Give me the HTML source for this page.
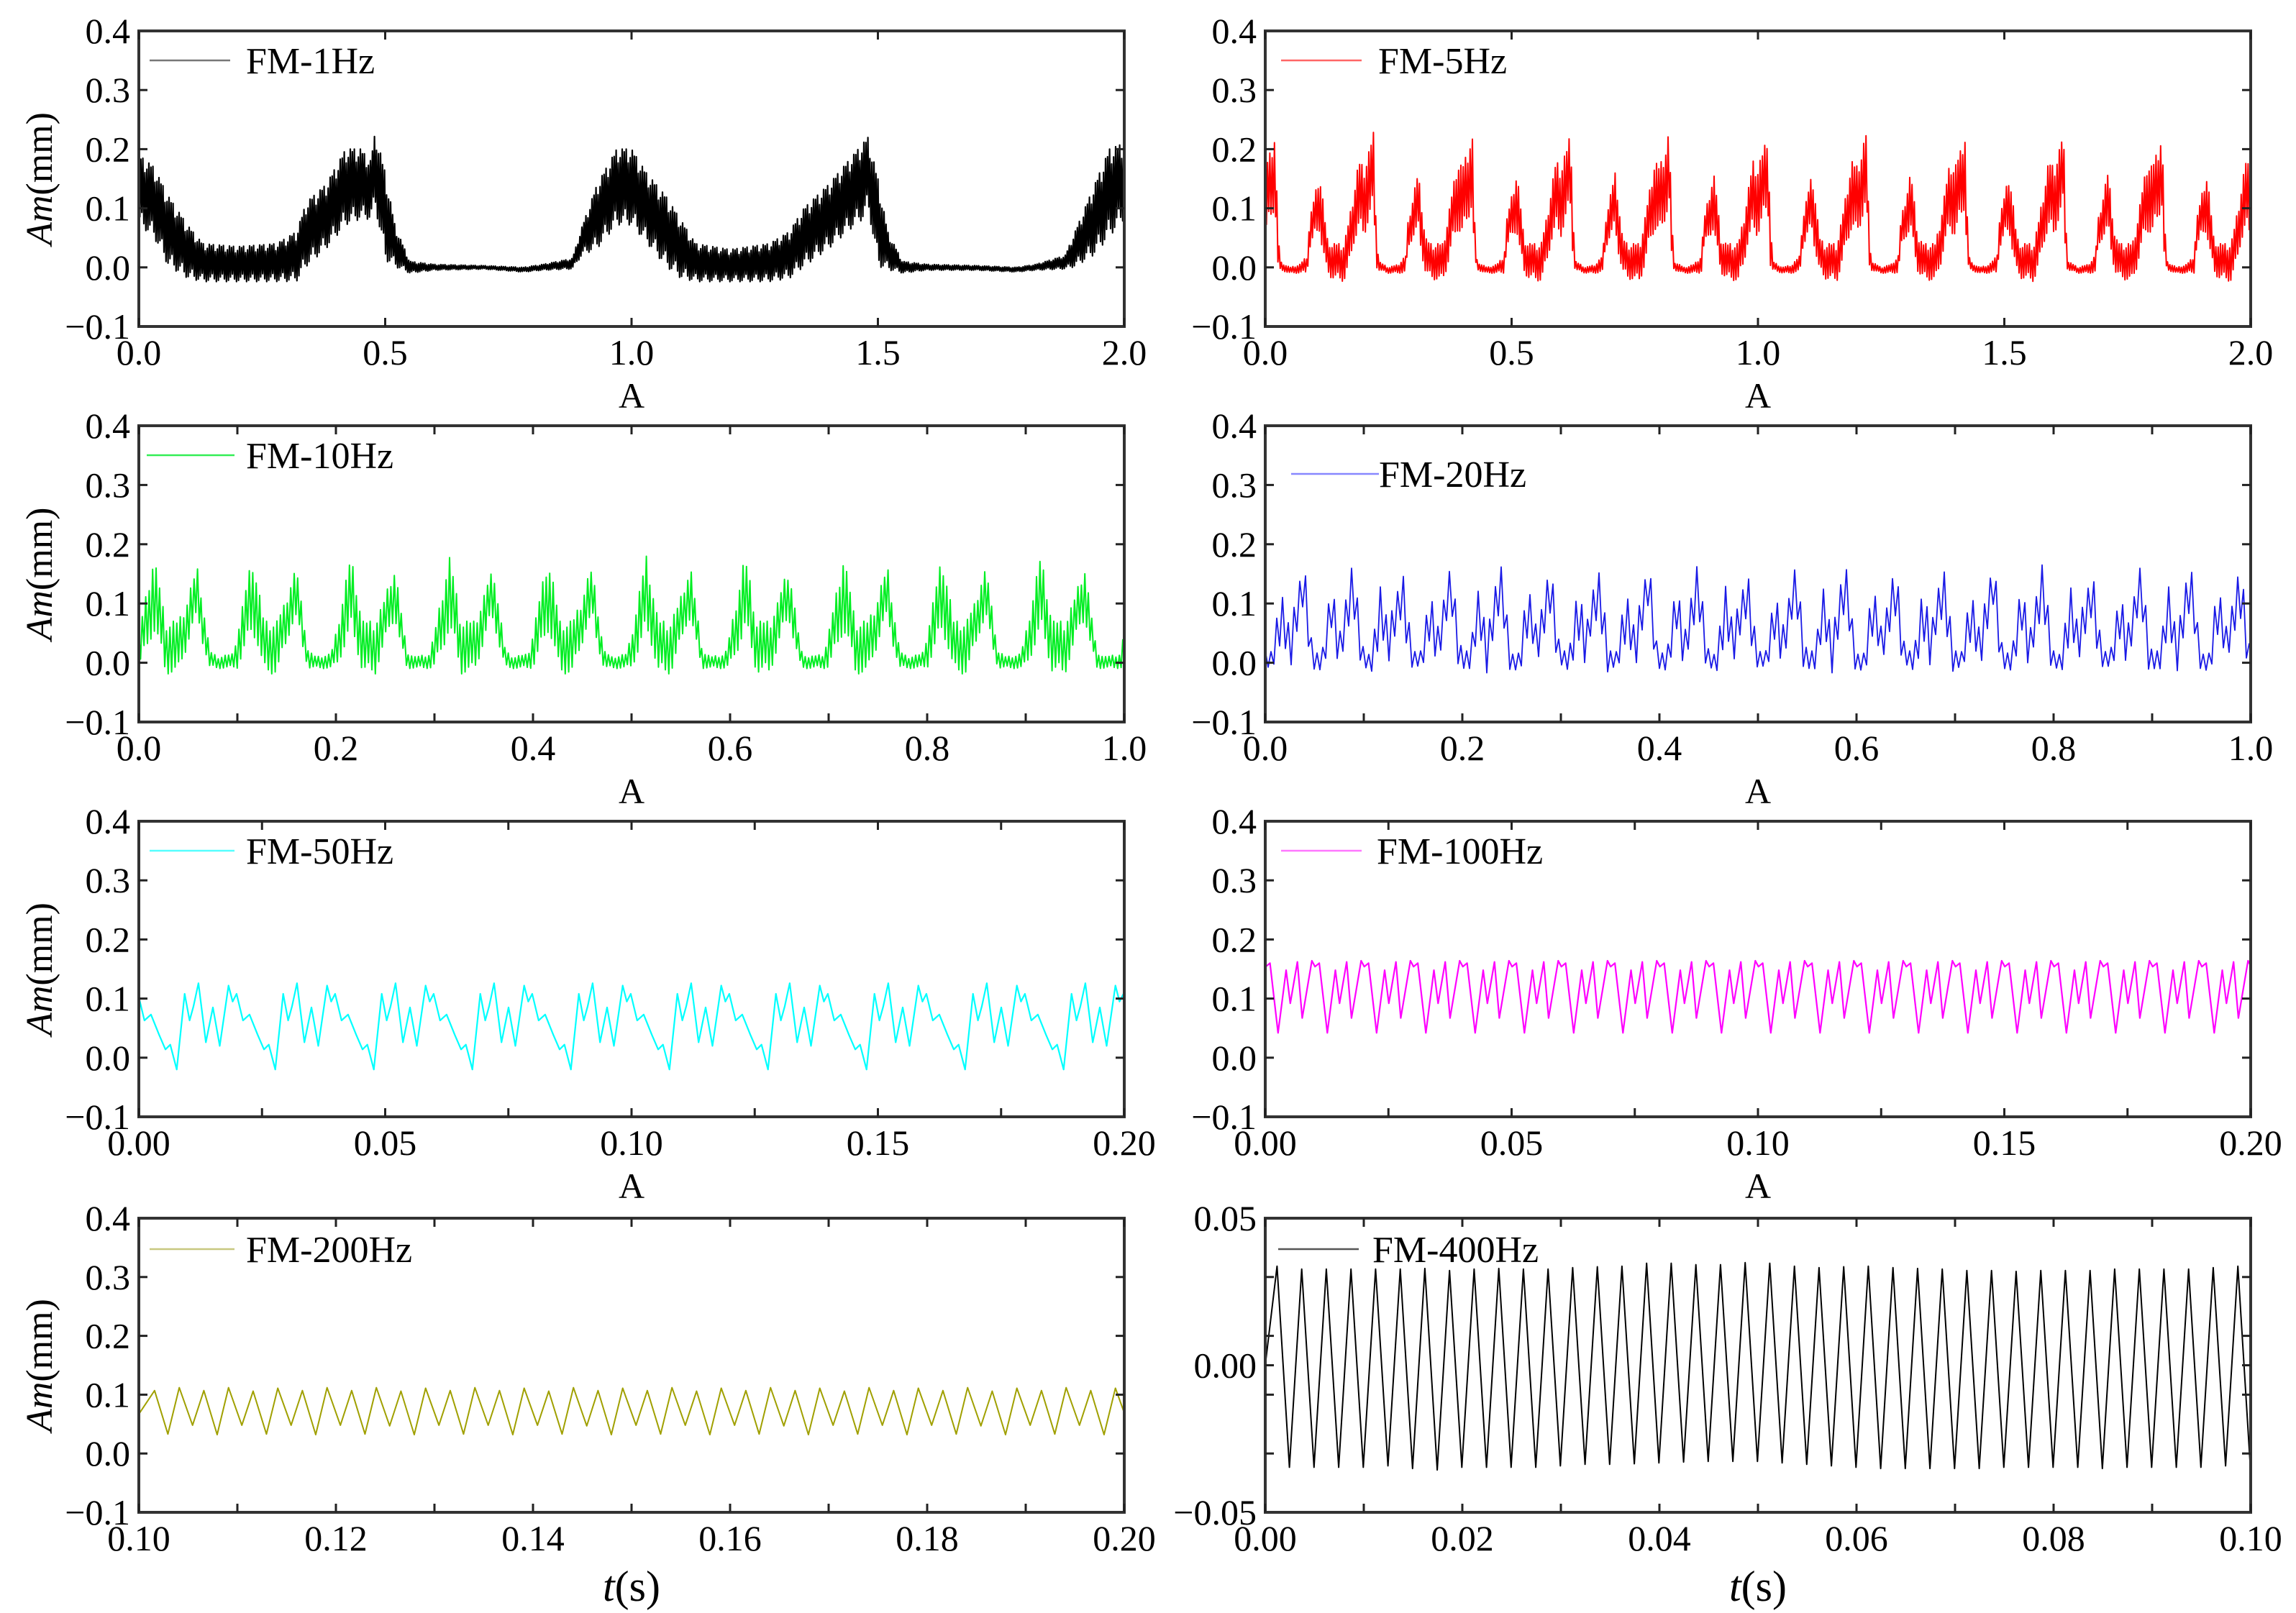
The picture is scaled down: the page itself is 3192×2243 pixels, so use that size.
<!DOCTYPE html>
<html><head><meta charset="utf-8">
<style>
html,body{margin:0;padding:0;background:#fff;}
svg{display:block;font-family:"Liberation Serif",serif;}
</style></head>
<body>
<svg id="fig" width="3192" height="2243" viewBox="0 0 3192 2243" xmlns="http://www.w3.org/2000/svg"></svg>
<script>
// ===== Data arrays =====
const t1 = [0,0.03,0.06,0.1,0.13,0.2,0.28,0.32,0.34,0.38,0.42,0.45,0.47,0.48,0.5,0.52,0.55,0.6,0.7,0.78,0.82,0.88,0.9,0.93,0.97,1.0,1.03,1.07,1.1,1.13,1.2,1.28,1.32,1.35,1.4,1.44,1.47,1.48,1.5,1.52,1.55,1.6,1.7,1.78,1.82,1.88,1.9,1.94,1.97,2.0];
const hi1 = [0.19,0.17,0.12,0.07,0.04,0.035,0.04,0.06,0.11,0.14,0.2,0.2,0.18,0.23,0.16,0.07,0.01,0.005,0.003,0.0,0.005,0.015,0.07,0.14,0.2,0.2,0.16,0.12,0.08,0.04,0.03,0.04,0.06,0.1,0.14,0.18,0.21,0.22,0.15,0.06,0.01,0.005,0.003,0.0,0.005,0.02,0.06,0.14,0.2,0.21];
const lo1 = [0.07,0.05,0.0,-0.02,-0.025,-0.025,-0.025,-0.025,0.0,0.03,0.07,0.08,0.08,0.1,0.01,0.0,-0.01,-0.005,-0.003,-0.008,-0.005,-0.003,0.02,0.03,0.07,0.07,0.04,0.0,-0.02,-0.025,-0.025,-0.025,-0.02,0.0,0.03,0.06,0.08,0.1,0.0,-0.005,-0.01,-0.005,-0.005,-0.008,-0.005,-0.003,0.0,0.02,0.05,0.08];
const period5 = 0.2;
const s5 = [0,0.012,0.02,0.025,0.03,0.05,0.07,0.085,0.09,0.1,0.11,0.115,0.125,0.135,0.16,0.17,0.18,0.19,0.2];
const hi5 = [0.17,0.2,0.23,0.08,0.01,0.0,0.005,0.02,0.08,0.12,0.16,0.13,0.05,0.04,0.04,0.08,0.13,0.18,0.17];
const lo5 = [0.05,0.08,0.1,0.0,-0.005,-0.01,-0.01,-0.01,0.03,0.05,0.06,0.03,-0.01,-0.02,-0.025,0.0,0.04,0.06,0.05];
const period10 = 0.1;
const s10 = [0,0.008,0.015,0.02,0.027,0.04,0.048,0.055,0.06,0.065,0.072,0.08,0.095,0.1];
const hi10 = [0.05,0.12,0.18,0.14,0.07,0.07,0.1,0.14,0.16,0.1,0.02,0.01,0.015,0.05];
const lo10 = [-0.01,0.02,0.05,0.03,-0.02,-0.02,0.02,0.06,0.07,0.03,-0.01,-0.01,-0.01,-0.01];
const period20 = 0.05;
const s20 = [0,0.008,0.012,0.017,0.021,0.025,0.03,0.035,0.039,0.043,0.047,0.05];
const hi20 = [0.02,0.02,0.08,0.13,0.1,0.06,0.1,0.14,0.17,0.12,0.05,0.02];
const lo20 = [-0.01,-0.015,0.0,0.04,0.02,-0.02,0.03,0.06,0.08,0.03,-0.02,-0.01];
const period50 = 0.02, start50 = 0.0077;
const ph50 = [0,0.08,0.13,0.17,0.22,0.295,0.367,0.436,0.525,0.567,0.607,0.672,0.738,0.82,0.885,0.934,1.0];
const v50 = [-0.02,0.108,0.063,0.087,0.126,0.026,0.085,0.02,0.122,0.095,0.108,0.063,0.073,0.039,0.014,0.022,-0.018];
const period100 = 0.01, start100 = 0.0026;
const ph100 = [0,0.163,0.248,0.392,0.49,0.686,0.75,0.837,1.0];
const v100 = [0.042,0.148,0.092,0.162,0.067,0.164,0.154,0.16,0.042];
const start200 = 0.1016, period200 = 0.0025;
const peaks200 = [0.107,0.112,0.107,0.112,0.106,0.111,0.107,0.112,0.107,0.112,0.106,0.111,0.107,0.112,0.107,0.111,0.106,0.112,0.107,0.111,0.107,0.112,0.106,0.111,0.107,0.112,0.107,0.111,0.106,0.112,0.107,0.111,0.107,0.112,0.106,0.111,0.107,0.112,0.107,0.111];
const troughs200 = [0.033,0.048,0.032,0.048,0.033,0.048,0.032,0.048,0.033,0.047,0.032,0.048,0.033,0.048,0.032,0.048,0.033,0.047,0.032,0.048,0.033,0.048,0.032,0.048,0.033,0.047,0.032,0.048,0.033,0.048,0.032,0.048,0.033,0.047,0.032,0.048,0.033,0.048,0.032,0.048];
const start400 = 0.0012, period400 = 0.0025;
const peaks400 = [0.0337,0.0327,0.0327,0.0327,0.0327,0.0327,0.0329,0.0322,0.0327,0.0329,0.0327,0.0327,0.0332,0.0335,0.0337,0.0347,0.0347,0.0342,0.0342,0.0349,0.0347,0.0337,0.0332,0.0335,0.0337,0.0332,0.0329,0.0327,0.0322,0.0322,0.0319,0.0322,0.0322,0.0322,0.0327,0.0327,0.0327,0.0327,0.0332,0.0337];
const troughs400 = [-0.0347,-0.0347,-0.0347,-0.0347,-0.0342,-0.0351,-0.0356,-0.0347,-0.0347,-0.0347,-0.0347,-0.0342,-0.0337,-0.0337,-0.0335,-0.0332,-0.0329,-0.0327,-0.0327,-0.0327,-0.0332,-0.0337,-0.0342,-0.0347,-0.0351,-0.0351,-0.0351,-0.0351,-0.0351,-0.0347,-0.0347,-0.0347,-0.0347,-0.0351,-0.0347,-0.0347,-0.0347,-0.0347,-0.0342,-0.0337];
const yTicksMain = ["0.4","0.3","0.2","0.1","0.0","\u22120.1"];
const yTicks400 = ["0.05","0.00","\u22120.05"];
const xTicks1 = ["0.0","0.5","1.0","1.5","2.0"];
const xTicks2 = ["0.0","0.2","0.4","0.6","0.8","1.0"];
const xTicks3 = ["0.00","0.05","0.10","0.15","0.20"];
const xTicks4L = ["0.10","0.12","0.14","0.16","0.18","0.20"];
const xTicks4R = ["0.00","0.02","0.04","0.06","0.08","0.10"];

// ===== Rendering =====
const NS = "http://www.w3.org/2000/svg";
const svg = document.getElementById('fig');
function mk(tag, attrs, parent){
  const e = document.createElementNS(NS, tag);
  for (const k in attrs) e.setAttribute(k, attrs[k]);
  (parent||svg).appendChild(e); return e;
}
function interp(xs, ys, x){
  if (x <= xs[0]) return ys[0];
  for (let i=1;i<xs.length;i++){ if (x <= xs[i]) { const f=(x-xs[i-1])/(xs[i]-xs[i-1]); return ys[i-1]+f*(ys[i]-ys[i-1]); } }
  return ys[ys.length-1];
}
const COLS = {L:[193,1563], R:[1759,3129]};
const ROWS = [[43,454],[592,1004],[1142,1553],[1694,2103]];
const jig = [1,0.72,0.93,0.55,1,0.82,0.64,0.97,0.78,0.9];

function panel(o){
  const [x0,x1] = COLS[o.col], [y0,y1] = ROWS[o.row];
  const g = mk('g', {});
  
  
  const sx = v => x0 + (v - o.xmin)/(o.xmax-o.xmin)*(x1-x0);
  const sy = v => y1 - (v - o.ymin)/(o.ymax-o.ymin)*(y1-y0);
  const cid = 'clip'+o.name;
  const cp = mk('clipPath', {id:cid}, g);
  mk('rect', {x:x0, y:y0, width:x1-x0, height:y1-y0}, cp);
  const pts = o.series(sx, sy, x0, x1);
  const pl = mk('polyline', {points: pts.map(p=>p[0].toFixed(1)+','+p[1].toFixed(1)).join(' '), fill:'none', stroke:o.color, 'stroke-width':o.sw||2, 'stroke-linejoin':'round', 'clip-path':'url(#'+cid+')'}, g);
  
  
  const fr = mk('rect', {x:x0, y:y0, width:x1-x0, height:y1-y0, fill:'none', stroke:'#333', 'stroke-width':4}, g);
  
  
  const tk = mk('g', {stroke:'#222','stroke-width':3}, g);
  for (let v = o.xmin; v <= o.xmax + 1e-9; v += o.xminor){
    const X = sx(v);
    mk('line', {x1:X, y1:y1, x2:X, y2:y1-12}, tk);
    mk('line', {x1:X, y1:y0, x2:X, y2:y0+12}, tk);
  }
  for (const v of o.yTickVals){
    const Y = sy(v);
    mk('line', {x1:x0, y1:Y, x2:x0+12, y2:Y}, tk);
    mk('line', {x1:x1, y1:Y, x2:x1-12, y2:Y}, tk);
  }
  o.xLabels.forEach((lab,i)=>{
    const v = o.xmin + i*o.xmajor;
    const t = mk('text', {x:sx(v), y:y1+53, 'font-size':50, 'text-anchor':'middle', fill:'#000'}, g);
    t.textContent = lab;
    
    
  });
  o.yLabels.forEach((lab,i)=>{
    const v = o.yLabelVals[i];
    const t = mk('text', {x:x0-12, y:sy(v)+17, 'font-size':50, 'text-anchor':'end', fill:'#000'}, g);
    t.textContent = lab;
    
    
  });
  const lg = mk('g', {}, g);
  
  
  mk('line', {x1:x0+o.lg[0], y1:y0+o.lg[2], x2:x0+o.lg[1], y2:y0+o.lg[2], stroke:o.lgColor, 'stroke-width':2.5}, lg);
  const lt = mk('text', {x:x0+o.lg[3], y:y0+o.lg[2]+18, 'font-size':52, fill:'#000'}, lg);
  lt.textContent = o.label;
  if (o.xTitle === 'A'){
    const t = mk('text', {x:(x0+x1)/2, y:y1+113, 'font-size':50, 'text-anchor':'middle'}, g);
    t.textContent = 'A';
    
    
  } else {
    const t = mk('text', {x:(x0+x1)/2, y:y1+123, 'font-size':60, 'text-anchor':'middle'}, g);
    t.innerHTML = '<tspan font-style="italic">t</tspan>(s)';
    
    
  }
  if (o.col === 'L'){
    const cy = (y0+y1)/2;
    const t = mk('text', {x:0, y:0, 'font-size':52, 'text-anchor':'middle', transform:'translate(72,'+cy+') rotate(-90)'}, g);
    t.innerHTML = '<tspan font-style="italic">Am</tspan>(mm)';
    
    
  }
}

function envSeries(tFn, step){
  return (sx, sy, x0, x1) => {
    const pts = []; let k = 0;
    for (let X = x0; X <= x1; X += step, k++){
      const [h,l] = tFn(X);
      const mid = (h+l)/2, a = (h-l)/2*jig[k%jig.length];
      const v = (k%2===0) ? mid + a : mid - a;
      pts.push([X, sy(v)]);
    }
    return pts;
  };
}
function periodicEnv(s, hi, lo, period, xmin, xmax, x0, x1){
  return X => {
    const t = xmin + (X-x0)/(x1-x0)*(xmax-xmin);
    const ph = ((t % period)+period)%period;
    return [interp(s,hi,ph), interp(s,lo,ph)];
  };
}
const yMainVals = [0.4,0.3,0.2,0.1,0.0,-0.1];
const base = {ymin:-0.1, ymax:0.4, yTickVals:[0.3,0.2,0.1,0.0], yLabels:yTicksMain, yLabelVals:yMainVals};

panel(Object.assign({}, base, {name:'fm-1hz-panel', col:'L', row:0, xmin:0, xmax:2, xmajor:0.5, xminor:0.5, xLabels:xTicks1, color:'#000', lgColor:'#777', sw:2.2, label:'FM-1Hz', lg:[15,127,41,149], xTitle:'A',
  series: envSeries(X => { const t=(X-193)/1370*2; return [interp(t1,hi1,t), interp(t1,lo1,t)]; }, 1.4)}));
panel(Object.assign({}, base, {name:'fm-5hz-panel', col:'R', row:0, xmin:0, xmax:2, xmajor:0.5, xminor:0.5, xLabels:xTicks1, color:'#ff0000', lgColor:'#ff6666', sw:2, label:'FM-5Hz', lg:[22,134,41,157], xTitle:'A',
  series: envSeries(periodicEnv(s5,hi5,lo5,period5,0,2,1759,3129), 1.6)}));
panel(Object.assign({}, base, {name:'fm-10hz-panel', col:'L', row:1, xmin:0, xmax:1, xmajor:0.2, xminor:0.1, xLabels:xTicks2, color:'#00ee22', lgColor:'#33ee55', sw:2, label:'FM-10Hz', lg:[11,133,41,149], xTitle:'A',
  series: envSeries(periodicEnv(s10,hi10,lo10,period10,0,1,193,1563), 2.4)}));
panel(Object.assign({}, base, {name:'fm-20hz-panel', col:'R', row:1, xmin:0, xmax:1, xmajor:0.2, xminor:0.1, xLabels:xTicks2, color:'#1a1ae6', lgColor:'#8888ff', sw:1.8, label:'FM-20Hz', lg:[36,158,67,158], xTitle:'A',
  series: envSeries(periodicEnv(s20,hi20,lo20,period20,0,1,1759,3129), 4)}));
function waveSeries(ph, v, period, start, xmin, xmax){
  return (sx, sy) => {
    const pts = [];
    const kStart = Math.floor((xmin-start)/period)-1, kEnd = Math.ceil((xmax-start)/period)+1;
    for (let k=kStart;k<=kEnd;k++) for (let i=0;i<ph.length-1;i++){
      const t = start + (k+ph[i])*period;
      pts.push([sx(t), sy(v[i])]);
    }
    return pts;
  };
}
panel(Object.assign({}, base, {name:'fm-50hz-panel', col:'L', row:2, xmin:0, xmax:0.2, xmajor:0.05, xminor:0.025, xLabels:xTicks3, color:'#00ffff', lgColor:'#55ffff', sw:2.2, label:'FM-50Hz', lg:[15,133,41,149], xTitle:'A',
  series: waveSeries(ph50, v50, period50, start50, 0, 0.2)}));
panel(Object.assign({}, base, {name:'fm-100hz-panel', col:'R', row:2, xmin:0, xmax:0.2, xmajor:0.05, xminor:0.025, xLabels:xTicks3, color:'#ff00ff', lgColor:'#ff77ff', sw:2.2, label:'FM-100Hz', lg:[22,134,41,155], xTitle:'A',
  series: waveSeries(ph100, v100, period100, start100, 0, 0.2)}));
function pkSeries(peaks, troughs, start, period, half, v0){
  return (sx, sy, x0) => {
    const pts = [[x0, sy(v0)]];
    for (let k=0;k<peaks.length;k++){
      pts.push([sx(start + k*period), sy(peaks[k])]);
      pts.push([sx(start + k*period + half), sy(troughs[k])]);
    }
    return pts;
  };
}
panel(Object.assign({}, base, {name:'fm-200hz-panel', col:'L', row:3, xmin:0.1, xmax:0.2, xmajor:0.02, xminor:0.01, xLabels:xTicks4L, color:'#a0a000', lgColor:'#c8c880', sw:2, label:'FM-200Hz', lg:[15,133,43,149], xTitle:'t',
  series: pkSeries(peaks200, troughs200, start200, period200, 0.00135, 0.067)}));
panel({name:'fm-400hz-panel', col:'R', row:3, xmin:0, xmax:0.1, xmajor:0.02, xminor:0.01, xLabels:xTicks4R, ymin:-0.05, ymax:0.05, yTickVals:[0.03,0.01,0.0,-0.01,-0.03], yLabels:yTicks400, yLabelVals:[0.05,0,-0.05], color:'#000', lgColor:'#555', sw:2, label:'FM-400Hz', lg:[18,130,43,149], xTitle:'t',
  series: pkSeries(peaks400, troughs400, start400, period400, 0.00125, 0.0)});
</script>
</body></html>
